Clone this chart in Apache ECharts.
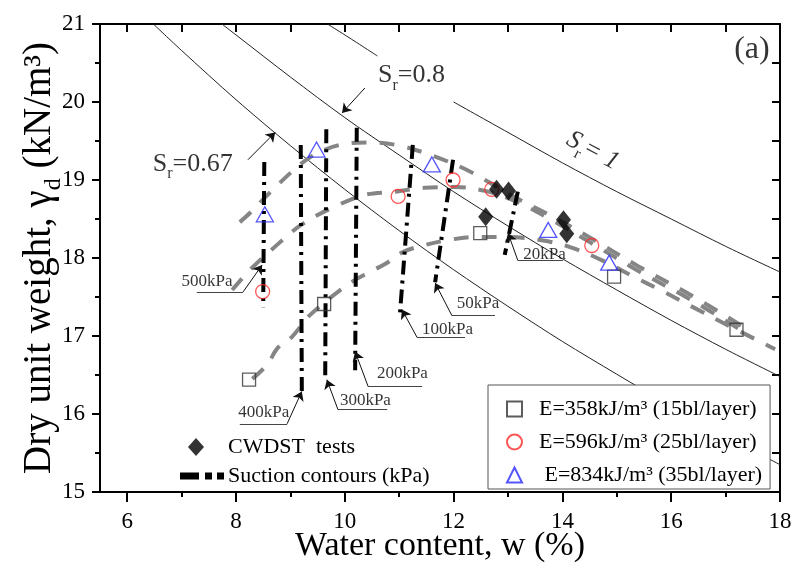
<!DOCTYPE html>
<html lang="en">
<head>
<meta charset="UTF-8">
<title>Compaction curves</title>
<script src="https://cdn.jsdelivr.net/npm/echarts@6/dist/echarts.min.js"></script>
<style>
    * { padding: 0; margin: 0; }
    html, body { width: 792px; height: 565px; background: #fff; }
    #chart { width: 792px; height: 565px; }
</style>
</head>
<body>
<div id="chart"></div>
<script>
// values: [water content %, dry unit weight kN/m3]
var sr067 = [[6.48,21.0],[7,20.66],[8,20.03],[9,19.44],[10,18.88],[11,18.35],[12,17.85],[13,17.38],[14,16.93],[15,16.51],[16,16.10],[17,15.72],[18,15.35]];
var sr080 = [[7.74,21.0],[8,20.86],[9,20.32],[10,19.80],[11,19.32],[12,18.85],[13,18.41],[14,17.99],[15,17.59],[16,17.20],[17,16.83],[18,16.48]];
var sr100a = [[9.68,21.0],[10,20.86],[10.6,20.59]];
var sr100b = [[12,20.0],[13,19.61],[14,19.22],[15,18.85],[16,18.50],[17,18.15],[18,17.82]];

var curve358 = [[8.30,16.45],[8.57,16.63],[8.77,16.85],[9.03,16.99],[9.32,17.24],[9.54,17.38],[9.88,17.57],[10.19,17.72],[10.46,17.82],[10.78,17.94],[11.05,18.07],[11.33,18.14],[11.90,18.23],[12.45,18.27],[12.98,18.27],[13.59,18.23],[14.14,18.14],[14.73,17.97],[15.28,17.77],[15.83,17.58],[16.40,17.37],[16.95,17.17],[17.91,16.83]];
var curve596 = [[7.93,17.59],[8.26,17.85],[8.66,18.11],[9.21,18.43],[9.82,18.66],[10.37,18.81],[10.92,18.85],[11.47,18.90],[12.03,18.91],[12.58,18.86],[13.13,18.73],[13.77,18.50],[14.51,18.20],[15.43,17.82],[16.35,17.47],[17.32,17.06]];
var curve834 = [[8.07,18.46],[8.26,18.58],[8.77,18.94],[9.36,19.29],[9.91,19.45],[10.46,19.48],[11.01,19.44],[11.66,19.30],[12.30,19.11],[13.04,18.81],[13.77,18.55],[14.51,18.26],[15.43,17.88],[16.35,17.53],[17.32,17.12]];

var pts358 = [[8.24,16.44],[9.62,17.41],[12.49,18.32],[14.95,17.76],[17.20,17.08]];
var pts596 = [[8.49,17.57],[10.98,18.79],[11.99,19.00],[12.70,18.88],[14.54,18.16]];
var pts834 = [[9.48,19.39],[8.53,18.56],[11.60,19.20],[13.74,18.36],[14.86,17.94]];
var ptsCwdst = [[12.79,18.88],[13.01,18.86],[12.59,18.53],[14.02,18.49],[14.08,18.31]];

// suction contours (kPa): top and bottom ends
var contours = [
    [[8.52,19.23],[8.50,17.37]],
    [[9.19,19.45],[9.21,16.27]],
    [[9.66,19.65],[9.64,16.46]],
    [[10.22,19.67],[10.19,16.56]],
    [[11.25,19.45],[11.01,17.25]],
    [[11.99,19.26],[11.66,17.69]],
    [[13.18,18.85],[12.94,18.04]]
];
var suctionNames = ['500kPa','400kPa','300kPa','200kPa','100kPa','50kPa','20kPa'];
var suctionText = [[7.00,17.70],[8.04,16.02],[9.91,16.17],[10.59,16.52],[11.42,17.08],[12.06,17.41],[13.28,18.04]];
var underlines = [
    [[7.28,17.565],[8.13,17.565]],
    [[8.07,15.875],[8.94,15.875]],
    [[9.875,16.055],[10.78,16.055]],
    [[10.43,16.35],[11.42,16.35]],
    [[11.33,16.98],[12.21,16.98]],
    [[11.97,17.26],[12.76,17.26]],
    [[13.18,17.97],[14.01,17.97]]
];
var arrows = [
    [[8.13,17.565],[8.48,17.91]],
    [[8.94,15.875],[9.21,16.29]],
    [[9.875,16.055],[9.67,16.44]],
    [[10.43,16.35],[10.19,16.80]],
    [[11.33,16.98],[11.05,17.34]],
    [[11.97,17.26],[11.66,17.68]],
    [[13.18,17.97],[13.0,18.32]],
    [[10.37,20.18],[9.95,19.86]],
    [[8.22,19.26],[8.72,19.61]]
];

var xLabels = [6,8,10,12,14,16,18];
var xMinor = [7,9,11,13,15,17];
var xTop = [6,7,8,9,10,11,12,13,14,15,16,17];

var serif = 'Liberation Serif';
var chart = echarts.init(document.getElementById('chart'));

var subRich = {
    m: { fontFamily: serif, fontSize: 26, color: '#000', lineHeight: 30, padding: [0, 0, 6, 0] },
    mi: { fontFamily: serif, fontSize: 26, fontStyle: 'italic', color: '#000', lineHeight: 30, padding: [0, 0, 6, 0] },
    r: { fontFamily: serif, fontSize: 16, color: '#000', lineHeight: 16, verticalAlign: 'bottom' }
};

function satLine(data) {
    return { type: 'line', data: data, smooth: 0.3, symbol: 'none', silent: true,
        lineStyle: { color: '#222', width: 1 }, z: 2 };
}
function compCurve(data) {
    return { type: 'line', data: data, smooth: 0.35, symbol: 'none', silent: true,
        lineStyle: { color: '#858585', width: 4, type: [15, 13], cap: 'butt' }, z: 3 };
}

var notes = [];
suctionNames.forEach(function (n, i) {
    notes.push({ value: suctionText[i], label: { formatter: n, fontSize: 17, align: 'left' } });
});
notes.push({ value: [10.61, 20.30], label: { formatter: '{m|S}{r|r}{m|=0.8}', align: 'left', rich: subRich } });
notes.push({ value: [6.47, 19.17], label: { formatter: '{m|S}{r|r}{m|=0.67}', align: 'left', rich: subRich } });
notes.push({ value: [14.53, 19.34], label: { formatter: '{mi|S}{r|r}{mi|= 1}', align: 'center', rotate: -28, rich: subRich } });
notes.push({ value: [17.81, 20.67], label: { formatter: '(a)', fontSize: 32, align: 'right' } });

var option = {
    animation: false,
    backgroundColor: '#fff',
    grid: { left: 100, right: 12, top: 24, bottom: 73, outerBoundsMode: 'none', containLabel: false },
    xAxis: [
        {
            type: 'value', min: 5.5, max: 18, position: 'bottom',
            name: 'Water content, w (%)', nameLocation: 'middle', nameGap: 37, nameMoveOverlap: false,
            nameTextStyle: { fontFamily: serif, fontSize: 34, color: '#000' },
            axisLine: { lineStyle: { color: '#000', width: 2 } },
            axisTick: { customValues: xLabels, length: 10, lineStyle: { color: '#000', width: 2 } },
            axisLabel: { customValues: xLabels, margin: 18, fontFamily: serif, fontSize: 23, color: '#000' },
            splitLine: { show: false }
        },
        {
            type: 'value', min: 5.5, max: 18, position: 'bottom',
            axisLine: { show: false },
            axisTick: { customValues: xMinor, length: 5, lineStyle: { color: '#000', width: 2 } },
            axisLabel: { show: false }, splitLine: { show: false }
        },
        {
            type: 'value', min: 5.5, max: 18, position: 'top',
            axisLine: { lineStyle: { color: '#000', width: 2 } },
            axisTick: { customValues: xTop, inside: true, length: 8, lineStyle: { color: '#000', width: 2 } },
            axisLabel: { show: false }, splitLine: { show: false }
        }
    ],
    yAxis: [
        {
            type: 'value', min: 15, max: 21, interval: 1, position: 'left',
            name: '{m|Dry unit weight, γ}{d|d}{m| (kN/m³)}', nameLocation: 'middle', nameGap: 34, nameMoveOverlap: false,
            nameTextStyle: {
                rich: {
                    m: { fontFamily: serif, fontSize: 39, color: '#000', lineHeight: 44, padding: [0, 0, 8, 0] },
                    d: { fontFamily: serif, fontSize: 24, color: '#000', lineHeight: 24, verticalAlign: 'bottom' }
                }
            },
            axisLine: { lineStyle: { color: '#000', width: 2 } },
            axisTick: { length: 8, lineStyle: { color: '#000', width: 2 } },
            minorTick: { show: true, splitNumber: 2, length: 5, lineStyle: { color: '#000', width: 2 } },
            axisLabel: { margin: 15, fontFamily: serif, fontSize: 23, color: '#000' },
            splitLine: { show: false }, minorSplitLine: { show: false }
        },
        {
            type: 'value', min: 15, max: 21, interval: 0.5, position: 'right',
            axisLine: { lineStyle: { color: '#000', width: 2 } },
            axisTick: { inside: true, length: 8, lineStyle: { color: '#000', width: 2 } },
            axisLabel: { show: false }, splitLine: { show: false }
        }
    ],
    legend: [
        {
            orient: 'vertical', left: 488, top: 385,
            padding: [12, 8, 2, 18], itemGap: 9, itemWidth: 15, itemHeight: 15,
            backgroundColor: '#fff', borderColor: '#555', borderWidth: 1,
            textStyle: { fontFamily: serif, fontSize: 22, color: '#000', lineHeight: 24, padding: [0, 0, 0, 12] },
            data: ['E=358kJ/m³ (15bl/layer)', 'E=596kJ/m³ (25bl/layer)', ' E=834kJ/m³ (35bl/layer)'],
            selectedMode: false
        },
        {
            orient: 'vertical', left: 180, top: 436, padding: 0,
            itemGap: 7, itemWidth: 42, itemHeight: 18,
            textStyle: { fontFamily: serif, fontSize: 22, color: '#000', lineHeight: 22 },
            data: [
                { name: 'CWDST  tests', icon: 'path://M0,0M42,18M15,0L23,9L15,18L7,9Z' },
                { name: 'Suction contours (kPa)', icon: 'path://M0,0M42,18M0,6.5h17v5h-17z M25,6.5h5v5h-5z M37,6.5h5v5h-5z', itemStyle: { color: '#000' } }
            ],
            selectedMode: false
        }
    ],
    series: [
        satLine(sr067), satLine(sr080), satLine(sr100a), satLine(sr100b),
        compCurve(curve358), compCurve(curve596), compCurve(curve834),
        {
            name: 'Suction contours (kPa)', type: 'lines', coordinateSystem: 'cartesian2d',
            data: contours.map(function (c) { return { coords: c }; }),
            lineStyle: { color: '#000', width: 4, type: [14, 6, 3, 6], cap: 'butt', opacity: 1 },
            silent: true, z: 4
        },
        {
            type: 'lines', coordinateSystem: 'cartesian2d',
            data: underlines.map(function (c) { return { coords: c }; }),
            lineStyle: { color: '#444', width: 1, opacity: 1 }, silent: true, z: 5
        },
        {
            type: 'lines', coordinateSystem: 'cartesian2d', symbol: ['none', 'arrow'], symbolSize: 9,
            data: arrows.map(function (c) { return { coords: c }; }),
            lineStyle: { color: '#111', width: 1, opacity: 1 }, silent: true, z: 5
        },
        {
            name: 'E=358kJ/m³ (15bl/layer)', type: 'scatter', data: pts358, symbol: 'rect', symbolSize: 13,
            itemStyle: { color: 'rgba(255,255,255,0)', borderColor: '#333', borderWidth: 1.3 }, z: 6
        },
        {
            name: 'E=596kJ/m³ (25bl/layer)', type: 'scatter', data: pts596, symbol: 'circle', symbolSize: 14,
            itemStyle: { color: 'rgba(255,255,255,0)', borderColor: '#ff2a2a', borderWidth: 1.3 }, z: 6
        },
        {
            name: ' E=834kJ/m³ (35bl/layer)', type: 'scatter', data: pts834, symbol: 'triangle', symbolSize: [17, 15],
            itemStyle: { color: 'rgba(255,255,255,0)', borderColor: '#2a2aff', borderWidth: 1.3 }, z: 6
        },
        {
            name: 'CWDST  tests', type: 'scatter', data: ptsCwdst, symbol: 'diamond', symbolSize: [15, 19],
            itemStyle: { color: '#000' }, z: 7
        },
        {
            type: 'scatter', data: notes, symbolSize: 0, silent: true, z: 8,
            label: { show: true, position: 'inside', verticalAlign: 'middle',
                fontFamily: serif, fontSize: 26, color: '#000' }
        }
    ]
};
chart.setOption(option);
</script>
</body>
</html>
